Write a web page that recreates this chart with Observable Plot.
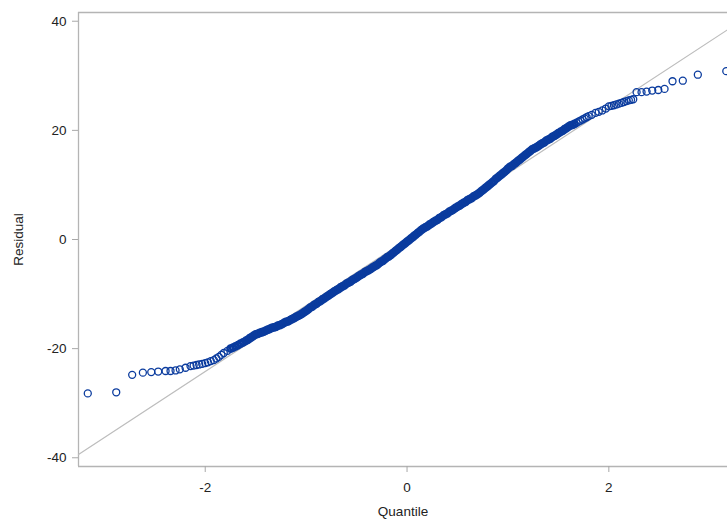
<!DOCTYPE html>
<html>
<head>
<meta charset="utf-8">
<script src="https://cdn.jsdelivr.net/npm/d3@7"></script>
<script src="https://cdn.jsdelivr.net/npm/@observablehq/plot@0.6"></script>
<style>
  html, body { margin: 0; padding: 0; background: #fff; }
  #chart svg { display: block; }
</style>
</head>
<body>
<div id="chart"></div>
<script>
// Axis ticks
const xTicks = [-2, 0, 2];
const yTicks = [-40, -20, 0, 20, 40];
const xDomain = [-3.256, 3.176];
const yDomain = [-41.6, 41.6];

// Normal reference line (mean, std dev)
const refIntercept = 0;
const refSlope = 12.1;

// [normal quantile, residual]
const leftTail = [
  [-3.164, -28.2], [-2.882, -28.0], [-2.724, -24.8], [-2.618, -24.4], [-2.535, -24.3],
  [-2.466, -24.2], [-2.393, -24.1], [-2.344, -24.1], [-2.294, -24.0], [-2.252, -23.8],
  [-2.195, -23.5], [-2.146, -23.2], [-2.115, -23.1], [-2.086, -23.0], [-2.06, -22.9],
  [-2.03, -22.8], [-2.0, -22.65], [-1.974, -22.5], [-1.945, -22.3], [-1.915, -22.1],
  [-1.89, -21.8], [-1.865, -21.5], [-1.84, -21.15], [-1.816, -20.8], [-1.78, -20.4]
];

// dense central run, where the circles merge into a solid band
const middle = [
  [-1.749, -20.0], [-1.725, -19.8], [-1.70, -19.6], [-1.675, -19.35], [-1.65, -19.1],
  [-1.625, -18.85], [-1.60, -18.6],
  [-1.58, -18.4], [-1.56, -18.1], [-1.54, -17.9], [-1.52, -17.6], [-1.50, -17.4],
  [-1.48, -17.3], [-1.46, -17.1], [-1.44, -17.0], [-1.42, -16.9], [-1.40, -16.7],
  [-1.38, -16.5], [-1.36, -16.4], [-1.34, -16.2], [-1.32, -16.1], [-1.30, -16.0],
  [-1.28, -15.8], [-1.26, -15.7], [-1.24, -15.5], [-1.22, -15.3], [-1.20, -15.1],
  [-1.18, -15.0], [-1.16, -14.8], [-1.14, -14.6], [-1.12, -14.4], [-1.10, -14.2],
  [-1.08, -14.0], [-1.06, -13.8], [-1.04, -13.6], [-1.02, -13.3], [-1.00, -13.1],
  [-0.98, -12.8], [-0.96, -12.5], [-0.94, -12.3], [-0.92, -12.0], [-0.90, -11.8],
  [-0.88, -11.5], [-0.86, -11.3], [-0.84, -11.0], [-0.82, -10.8], [-0.80, -10.5],
  [-0.78, -10.3], [-0.76, -10.0], [-0.74, -9.8], [-0.72, -9.5], [-0.70, -9.3],
  [-0.68, -9.1], [-0.66, -8.8], [-0.64, -8.6], [-0.62, -8.4], [-0.60, -8.1],
  [-0.58, -7.9], [-0.56, -7.7], [-0.54, -7.4], [-0.52, -7.2], [-0.50, -7.0],
  [-0.48, -6.7], [-0.46, -6.5], [-0.44, -6.3], [-0.42, -6.0], [-0.40, -5.8],
  [-0.38, -5.6], [-0.36, -5.4], [-0.34, -5.1], [-0.32, -4.9], [-0.30, -4.7],
  [-0.28, -4.4], [-0.26, -4.1], [-0.24, -3.9], [-0.22, -3.6], [-0.20, -3.3],
  [-0.18, -3.1], [-0.16, -2.8], [-0.14, -2.5], [-0.12, -2.2], [-0.10, -1.9],
  [-0.08, -1.6], [-0.06, -1.3], [-0.04, -1.0], [-0.02, -0.7], [0.00, -0.4],
  [0.02, -0.1], [0.04, 0.2], [0.06, 0.5], [0.08, 0.8], [0.10, 1.1],
  [0.12, 1.4], [0.14, 1.7], [0.16, 2.0], [0.18, 2.2], [0.20, 2.4],
  [0.22, 2.7], [0.24, 2.9], [0.26, 3.2], [0.28, 3.4], [0.30, 3.6],
  [0.32, 3.9], [0.34, 4.1], [0.36, 4.4], [0.38, 4.6], [0.40, 4.8],
  [0.42, 5.1], [0.44, 5.3], [0.46, 5.5], [0.48, 5.8], [0.50, 6.0],
  [0.52, 6.2], [0.54, 6.5], [0.56, 6.7], [0.58, 6.9], [0.60, 7.2],
  [0.62, 7.4], [0.64, 7.6], [0.66, 7.9], [0.68, 8.1], [0.70, 8.3],
  [0.72, 8.6], [0.74, 8.9], [0.76, 9.2], [0.78, 9.5], [0.80, 9.8],
  [0.82, 10.1], [0.84, 10.4], [0.86, 10.7], [0.88, 11.1], [0.90, 11.4],
  [0.92, 11.7], [0.94, 12.0], [0.96, 12.3], [0.98, 12.6], [1.00, 13.0],
  [1.02, 13.3], [1.04, 13.5], [1.06, 13.8], [1.08, 14.1], [1.10, 14.4],
  [1.12, 14.7], [1.14, 15.0], [1.16, 15.3], [1.18, 15.6], [1.20, 15.9],
  [1.22, 16.2], [1.24, 16.5], [1.26, 16.7], [1.28, 16.9], [1.30, 17.1],
  [1.32, 17.4], [1.34, 17.6], [1.36, 17.8], [1.38, 18.1], [1.40, 18.3],
  [1.42, 18.5], [1.44, 18.8], [1.46, 19.0], [1.48, 19.2], [1.50, 19.5],
  [1.52, 19.7], [1.54, 19.9], [1.56, 20.2], [1.58, 20.4], [1.60, 20.7],
  [1.62, 20.9], [1.64, 21.0], [1.66, 21.2]
];

const rightTail = [
  [1.68, 21.4], [1.70, 21.6],
  [1.72, 21.8], [1.74, 22.0], [1.76, 22.2], [1.78, 22.4], [1.80, 22.6],
  [1.83, 22.85], [1.868, 23.2], [1.90, 23.4], [1.935, 23.65], [1.97, 24.0],
  [2.0, 24.4], [2.025, 24.5], [2.05, 24.6], [2.075, 24.75], [2.10, 24.9],
  [2.125, 25.05], [2.149, 25.2], [2.175, 25.35], [2.198, 25.5], [2.22, 25.6],
  [2.242, 25.7], [2.275, 27.0], [2.324, 27.0], [2.374, 27.1], [2.43, 27.3],
  [2.49, 27.4], [2.552, 27.6], [2.631, 29.0], [2.733, 29.1], [2.882, 30.2],
  [3.164, 30.85]
];

const toRows = arr => arr.map(([q, r]) => ({q, r}));
const tails = toRows([...leftTail, ...rightTail]);
const core = toRows(middle);
const refLine = xDomain.map(q => ({q, r: refIntercept + refSlope * q}));

const markerColor = "#0a3b9e";

const plot = Plot.plot({
  width: 727,
  height: 521,
  marginLeft: 78,
  marginTop: 12,
  marginRight: 0,
  marginBottom: 55,
  style: {fontFamily: "'Liberation Sans', Arial, sans-serif", fontSize: "13.5px", background: "#fff", color: "#222"},
  x: {domain: xDomain},
  y: {domain: yDomain},
  marks: [
    Plot.ruleY(yDomain, {stroke: "#b4b4b4", strokeWidth: 1.3}),
    Plot.ruleX([xDomain[0]], {stroke: "#b4b4b4", strokeWidth: 1.3}),
    Plot.line(refLine, {x: "q", y: "r", stroke: "#bdbdbd", strokeWidth: 1.2}),
    Plot.dot(core, {x: "q", y: "r", r: 3.1, stroke: markerColor, strokeWidth: 2.6, fill: "none"}),
    Plot.dot(tails, {x: "q", y: "r", r: 3.5, stroke: markerColor, strokeWidth: 1.3, fill: "none"}),
    Plot.axisY({ticks: yTicks, tickSize: 6, tickPadding: 6, tickFormat: d => String(d),
      stroke: "#a8a8a8", fill: "#222", fontSize: 13.5,
      label: "Residual", labelAnchor: "center", labelOffset: 65, labelArrow: "none"}),
    Plot.axisX({ticks: xTicks, tickSize: 6, tickPadding: 10, tickFormat: d => String(d),
      stroke: "#a8a8a8", fill: "#222", fontSize: 13.5,
      label: "Quantile", labelAnchor: "center", labelOffset: 49, labelArrow: "none"})
  ]
});
document.getElementById("chart").appendChild(plot);
</script>
</body>
</html>
